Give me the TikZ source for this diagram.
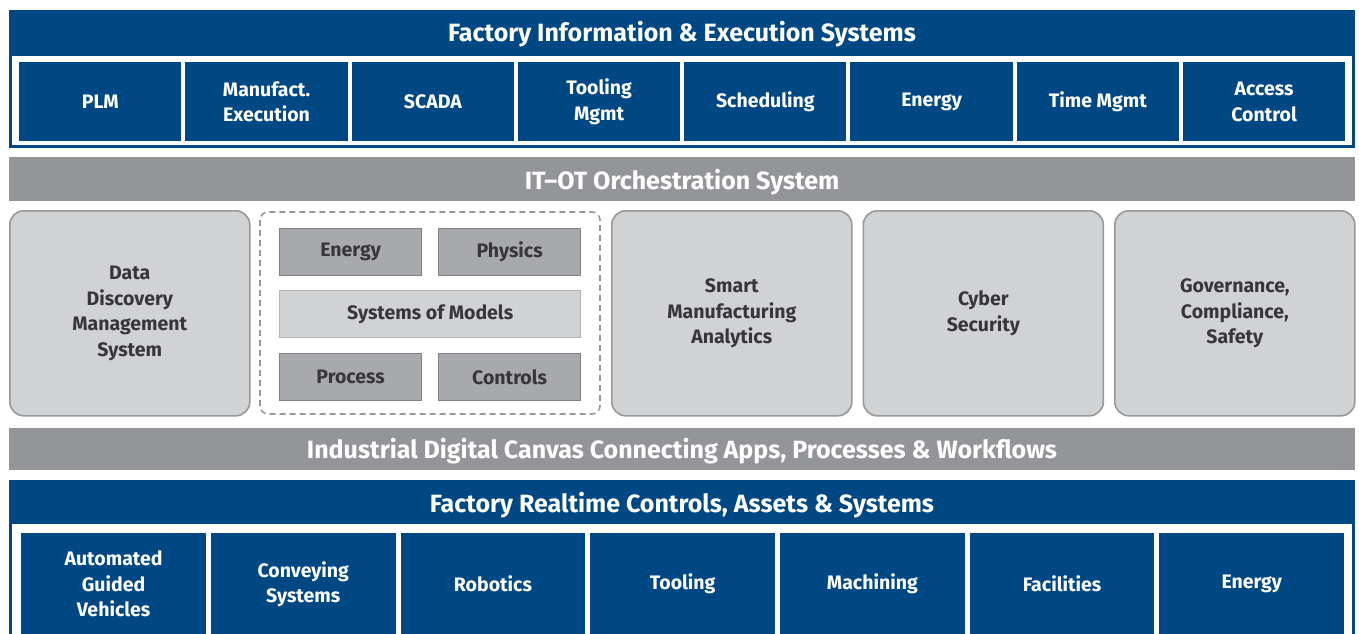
\documentclass[tikz,border=0pt]{standalone}
\usepackage{fontspec}
\setmainfont{Fira Sans}
\usepackage{xcolor}
\usetikzlibrary{positioning}

\definecolor{factoryblue}{RGB}{0,72,132}
\definecolor{bandgray}{RGB}{147,149,152}
\definecolor{panelgray}{RGB}{209,210,212}
\definecolor{panelline}{RGB}{150,152,155}
\definecolor{modelgray}{RGB}{167,169,172}
\definecolor{modelline}{RGB}{128,130,133}
\definecolor{lightline}{RGB}{178,180,182}
\definecolor{textgray}{RGB}{55,55,57}

\tikzset{
  label font/.style={font=\bfseries\fontsize{19.5}{25.5}\selectfont},
  band font/.style={font=\bfseries\fontsize{25}{29}\selectfont},
  bluebox/.style={fill=factoryblue, text=white, anchor=north west, align=center,
    inner sep=0pt, label font},
  bandtext/.style={text=white, anchor=base, inner sep=0pt, band font},
  panel/.style={fill=panelgray, draw=panelline, line width=1.6pt,
    rounded corners=14pt, anchor=north west, align=center, inner sep=0pt,
    text=textgray, label font},
  modelbox/.style={fill=modelgray, draw=modelline, line width=1.3pt,
    anchor=north west, align=center, inner sep=0pt, text=textgray, label font},
  sombox/.style={modelbox, fill=panelgray, draw=lightline}
}

\begin{document}
\begin{tikzpicture}[x=1pt, y=-1pt]
  \clip (0,0) rectangle (1359,633);
  \fill[white] (0,0) rectangle (1359,633);

  % factory information & execution systems
  \fill[factoryblue] (9,10) rectangle (1355,148);
  \fill[white] (12,56) rectangle (1352,145);
  \node[bandtext] (fies) at (682,41) {Factory Information \& Execution Systems};
  \foreach \lbl [count=\i from 0] in {PLM, {Manufact.\\Execution}, SCADA,
      {Tooling\\Mgmt}, Scheduling, Energy, Time Mgmt, {Access\\Control}}
    \node[bluebox, minimum width=162.25pt, minimum height=79pt]
      (fies-\i) at ({19+\i*166.25},62) {\lbl};

  % orchestration band
  \fill[bandgray] (9,157) rectangle (1355,201);
  \node[bandtext] (itot) at (682,189) {IT--OT Orchestration System};

  % middle panels
  \node[panel, minimum width=240pt, minimum height=205pt]
    (ddms) at (9,210) {Data\\Discovery\\Management\\System};
  \foreach \lbl [count=\i from 0] in {{Smart\\Manufacturing\\Analytics},
      {Cyber\\Security}, {Governance,\\Compliance,\\Safety}}
    \node[panel, minimum width=240pt, minimum height=205pt]
      (panel-\i) at ({611+\i*251.5},210) {\lbl};

  % systems of models
  \draw[panelline, line width=1.6pt, dash pattern=on 6pt off 4pt,
    rounded corners=8pt] (260,212) rectangle (600,414);
  \node[modelbox, minimum width=142pt, minimum height=47pt]
    (energy) at (279,228) {Energy};
  \node[modelbox, minimum width=142pt, minimum height=47pt]
    (physics) at (438,228) {Physics};
  \node[sombox, minimum width=301pt, minimum height=47pt]
    (som) at (279,290) {Systems of Models};
  \node[modelbox, minimum width=142pt, minimum height=47pt]
    (process) at (279,353) {Process};
  \node[modelbox, minimum width=142pt, minimum height=47pt]
    (controls) at (438,353) {Controls};

  % canvas band
  \fill[bandgray] (9,428) rectangle (1355,470);
  \node[bandtext] (canvas) at (682,458)
    {Industrial Digital Canvas Connecting Apps, Processes \& Workflows};

  % factory realtime controls
  \fill[factoryblue] (9,480) rectangle (1355,640);
  \fill[white] (12,524) rectangle (1352,640);
  \node[bandtext] (frc) at (682,512) {Factory Realtime Controls, Assets \& Systems};
  \foreach \lbl [count=\i from 0] in {{Automated\\Guided\\Vehicles},
      {Conveying\\Systems}, Robotics, Tooling, Machining, Facilities, Energy}
    \node[bluebox, minimum width=184.7pt, minimum height=102pt]
      (frc-\i) at ({21+\i*189.7},533) {\lbl};
\end{tikzpicture}
\end{document}
